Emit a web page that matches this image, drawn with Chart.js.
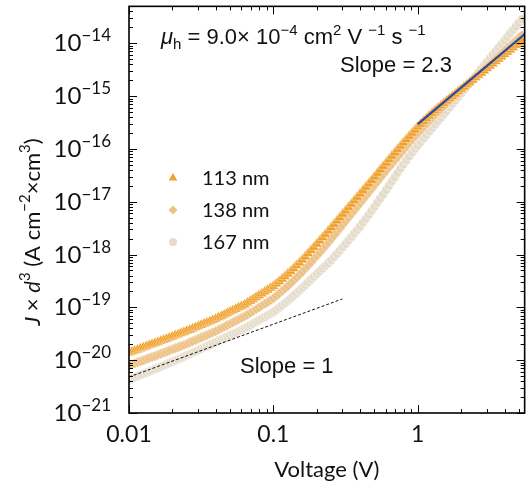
<!DOCTYPE html>
<html>
<head>
<meta charset="utf-8">
<script src="https://cdn.jsdelivr.net/npm/chart.js@4.4.1/dist/chart.umd.min.js"></script>
<style>
  body { margin: 0; background: #fff; }
  canvas { display: block; }
</style>
</head>
<body>
<canvas id="chart" width="531" height="490"></canvas>
<script>
// voltage (V), log spaced
const voltage = [
  0.01, 0.01047, 0.01096, 0.01148, 0.01202, 0.01259, 0.01318, 0.0138, 0.01445, 0.01514,
  0.01585, 0.0166, 0.01738, 0.0182, 0.01905, 0.01995, 0.02089, 0.02188, 0.02291, 0.02399,
  0.02512, 0.0263, 0.02754, 0.02884, 0.0302, 0.03162, 0.03311, 0.03467, 0.03631, 0.03802,
  0.03981, 0.04169, 0.04365, 0.04571, 0.04786, 0.05012, 0.05248, 0.05495, 0.05754, 0.06026,
  0.0631, 0.06607, 0.06918, 0.07244, 0.07586, 0.07943, 0.08318, 0.0871, 0.0912, 0.0955,
  0.1, 0.1047, 0.1096, 0.1148, 0.1202, 0.1259, 0.1318, 0.138, 0.1445, 0.1514,
  0.1585, 0.166, 0.1738, 0.182, 0.1905, 0.1995, 0.2089, 0.2188, 0.2291, 0.2399,
  0.2512, 0.263, 0.2754, 0.2884, 0.302, 0.3162, 0.3311, 0.3467, 0.3631, 0.3802,
  0.3981, 0.4169, 0.4365, 0.4571, 0.4786, 0.5012, 0.5248, 0.5495, 0.5754, 0.6026,
  0.631, 0.6607, 0.6918, 0.7244, 0.7586, 0.7943, 0.8318, 0.871, 0.912, 0.955,
  1.0, 1.047, 1.096, 1.148, 1.202, 1.259, 1.318, 1.38, 1.445, 1.514,
  1.585, 1.66, 1.738, 1.82, 1.905, 1.995, 2.089, 2.188, 2.291, 2.399,
  2.512, 2.63, 2.754, 2.884, 3.02, 3.162, 3.311, 3.467, 3.631, 3.802,
  3.981, 4.169, 4.365, 4.571, 4.786, 5.012, 5.248
];

// J x d^3 (A cm^-2 x cm^3)
const j113 = [
  1.38e-20, 1.44e-20, 1.51e-20, 1.58e-20, 1.66e-20, 1.74e-20, 1.82e-20, 1.91e-20, 2.00e-20, 2.09e-20,
  2.19e-20, 2.30e-20, 2.41e-20, 2.53e-20, 2.65e-20, 2.78e-20, 2.92e-20, 3.07e-20, 3.22e-20, 3.38e-20,
  3.55e-20, 3.74e-20, 3.94e-20, 4.16e-20, 4.39e-20, 4.63e-20, 4.88e-20, 5.14e-20, 5.42e-20, 5.72e-20,
  6.03e-20, 6.41e-20, 6.82e-20, 7.26e-20, 7.73e-20, 8.22e-20, 8.75e-20, 9.31e-20, 9.91e-20, 1.05e-19,
  1.12e-19, 1.22e-19, 1.32e-19, 1.43e-19, 1.55e-19, 1.68e-19, 1.82e-19, 1.97e-19, 2.14e-19, 2.32e-19,
  2.51e-19, 2.79e-19, 3.10e-19, 3.45e-19, 3.84e-19, 4.31e-19, 4.83e-19, 5.47e-19, 6.19e-19, 7.01e-19,
  7.94e-19, 9.13e-19, 1.05e-18, 1.20e-18, 1.38e-18, 1.59e-18, 1.83e-18, 2.11e-18, 2.43e-18, 2.81e-18,
  3.24e-18, 3.75e-18, 4.35e-18, 5.04e-18, 5.83e-18, 6.76e-18, 7.83e-18, 9.07e-18, 1.05e-17, 1.22e-17,
  1.41e-17, 1.64e-17, 1.90e-17, 2.20e-17, 2.55e-17, 2.97e-17, 3.47e-17, 4.03e-17, 4.68e-17, 5.43e-17,
  6.31e-17, 7.31e-17, 8.47e-17, 9.83e-17, 1.14e-16, 1.31e-16, 1.51e-16, 1.74e-16, 2.00e-16, 2.29e-16,
  2.63e-16, 2.96e-16, 3.34e-16, 3.77e-16, 4.25e-16, 4.76e-16, 5.32e-16, 5.92e-16, 6.58e-16, 7.31e-16,
  8.13e-16, 8.99e-16, 9.95e-16, 1.10e-15, 1.22e-15, 1.35e-15, 1.49e-15, 1.65e-15, 1.83e-15, 2.02e-15,
  2.24e-15, 2.48e-15, 2.74e-15, 3.03e-15, 3.36e-15, 3.72e-15, 4.11e-15, 4.55e-15, 5.04e-15, 5.58e-15,
  6.17e-15, 6.83e-15, 7.55e-15, 8.36e-15, 9.25e-15, 1.02e-14, 1.13e-14
];
const j138 = [
  7.94e-21, 8.32e-21, 8.71e-21, 9.12e-21, 9.55e-21, 1.00e-20, 1.05e-20, 1.10e-20, 1.15e-20, 1.20e-20,
  1.26e-20, 1.32e-20, 1.39e-20, 1.46e-20, 1.53e-20, 1.60e-20, 1.68e-20, 1.76e-20, 1.85e-20, 1.94e-20,
  2.04e-20, 2.16e-20, 2.28e-20, 2.41e-20, 2.55e-20, 2.69e-20, 2.84e-20, 3.00e-20, 3.18e-20, 3.36e-20,
  3.55e-20, 3.79e-20, 4.04e-20, 4.31e-20, 4.59e-20, 4.89e-20, 5.22e-20, 5.57e-20, 5.94e-20, 6.34e-20,
  6.76e-20, 7.31e-20, 7.91e-20, 8.55e-20, 9.25e-20, 9.99e-20, 1.08e-19, 1.17e-19, 1.26e-19, 1.37e-19,
  1.48e-19, 1.65e-19, 1.83e-19, 2.03e-19, 2.26e-19, 2.53e-19, 2.84e-19, 3.22e-19, 3.65e-19, 4.13e-19,
  4.68e-19, 5.37e-19, 6.17e-19, 7.08e-19, 8.13e-19, 9.37e-19, 1.08e-18, 1.25e-18, 1.45e-18, 1.68e-18,
  1.95e-18, 2.28e-18, 2.67e-18, 3.12e-18, 3.65e-18, 4.27e-18, 4.99e-18, 5.83e-18, 6.82e-18, 7.98e-18,
  9.33e-18, 1.09e-17, 1.28e-17, 1.50e-17, 1.75e-17, 2.05e-17, 2.39e-17, 2.80e-17, 3.27e-17, 3.82e-17,
  4.47e-17, 5.20e-17, 6.05e-17, 7.04e-17, 8.20e-17, 9.54e-17, 1.11e-16, 1.29e-16, 1.49e-16, 1.73e-16,
  2.00e-16, 2.28e-16, 2.61e-16, 2.98e-16, 3.40e-16, 3.87e-16, 4.41e-16, 4.99e-16, 5.65e-16, 6.40e-16,
  7.24e-16, 8.16e-16, 9.20e-16, 1.04e-15, 1.17e-15, 1.32e-15, 1.48e-15, 1.65e-15, 1.85e-15, 2.07e-15,
  2.32e-15, 2.59e-15, 2.90e-15, 3.25e-15, 3.64e-15, 4.07e-15, 4.56e-15, 5.10e-15, 5.71e-15, 6.39e-15,
  7.16e-15, 8.01e-15, 8.97e-15, 1.00e-14, 1.12e-14, 1.26e-14, 1.41e-14
];
const j167 = [
  4.27e-21, 4.49e-21, 4.72e-21, 4.96e-21, 5.22e-21, 5.49e-21, 5.78e-21, 6.08e-21, 6.40e-21, 6.73e-21,
  7.08e-21, 7.48e-21, 7.91e-21, 8.36e-21, 8.83e-21, 9.33e-21, 9.86e-21, 1.04e-20, 1.10e-20, 1.16e-20,
  1.23e-20, 1.30e-20, 1.38e-20, 1.46e-20, 1.55e-20, 1.64e-20, 1.74e-20, 1.84e-20, 1.95e-20, 2.07e-20,
  2.19e-20, 2.33e-20, 2.47e-20, 2.62e-20, 2.78e-20, 2.95e-20, 3.13e-20, 3.32e-20, 3.53e-20, 3.75e-20,
  3.98e-20, 4.27e-20, 4.59e-20, 4.93e-20, 5.30e-20, 5.69e-20, 6.11e-20, 6.56e-20, 7.05e-20, 7.57e-20,
  8.13e-20, 8.95e-20, 9.86e-20, 1.09e-19, 1.20e-19, 1.33e-19, 1.48e-19, 1.66e-19, 1.86e-19, 2.09e-19,
  2.34e-19, 2.64e-19, 2.98e-19, 3.36e-19, 3.78e-19, 4.26e-19, 4.81e-19, 5.42e-19, 6.11e-19, 6.89e-19,
  7.76e-19, 8.94e-19, 1.03e-18, 1.19e-18, 1.37e-18, 1.59e-18, 1.85e-18, 2.15e-18, 2.50e-18, 2.91e-18,
  3.39e-18, 4.02e-18, 4.76e-18, 5.65e-18, 6.70e-18, 8.00e-18, 9.55e-18, 1.15e-17, 1.38e-17, 1.66e-17,
  2.00e-17, 2.41e-17, 2.91e-17, 3.52e-17, 4.25e-17, 5.08e-17, 6.08e-17, 7.21e-17, 8.55e-17, 1.00e-16,
  1.17e-16, 1.36e-16, 1.58e-16, 1.84e-16, 2.14e-16, 2.48e-16, 2.88e-16, 3.35e-16, 3.89e-16, 4.52e-16,
  5.25e-16, 6.11e-16, 7.11e-16, 8.28e-16, 9.64e-16, 1.12e-15, 1.31e-15, 1.52e-15, 1.77e-15, 2.06e-15,
  2.40e-15, 2.80e-15, 3.27e-15, 3.81e-15, 4.45e-15, 5.19e-15, 6.05e-15, 7.06e-15, 8.24e-15, 9.61e-15,
  1.12e-14, 1.31e-14, 1.53e-14, 1.78e-14, 2.08e-14, 2.43e-14, 2.83e-14
];

// fit lines
const slope1X = [0.01, 0.3];
const slope1Y = [4.8e-21, 1.44e-19];
const slope23X = [1, 5.5];
const slope23Y = [2.95e-16, 1.49e-14];

const seriesLabels = ['113 nm', '138 nm', '167 nm'];
const xTickValues = [0.01, 0.1, 1];
const xTickLabels = ['0.01', '0.1', '1'];
const yTickExponents = [-21, -20, -19, -18, -17, -16, -15, -14];

const colors = ['#f0a02c', '#ecc286', '#e6dccb'];

const pts = (xs, ys) => xs.map((x, i) => ({ x: x, y: ys[i] }));

function richText(ctx, parts, x, y, align) {
  let w = 0;
  parts.forEach(p => { ctx.font = p[1]; w += ctx.measureText(p[0]).width; });
  let cx = align === 'right' ? x - w : align === 'center' ? x - w / 2 : x;
  ctx.textAlign = 'left';
  ctx.textBaseline = 'alphabetic';
  parts.forEach(p => {
    ctx.font = p[1];
    ctx.fillText(p[0], cx, y + (p[2] || 0));
    cx += ctx.measureText(p[0]).width;
  });
}

const decor = {
  id: 'decor',
  afterDatasetsDraw(chart) {
    const { ctx, chartArea: a, scales: { x, y } } = chart;
    ctx.save();
    ctx.strokeStyle = '#000';
    ctx.lineWidth = 1;
    ctx.beginPath();
    for (let e = -2; e <= 0; e++) {
      for (let m = 1; m <= 9; m++) {
        const v = m * Math.pow(10, e);
        if (v > x.max) continue;
        const px = Math.round(x.getPixelForValue(v)) + 0.5;
        const len = m === 1 ? 8 : 4;
        ctx.moveTo(px, a.bottom); ctx.lineTo(px, a.bottom - len);
        ctx.moveTo(px, a.top); ctx.lineTo(px, a.top + len);
      }
    }
    for (let e = -21; e <= -14; e++) {
      for (let m = 1; m <= 9; m++) {
        const v = m * Math.pow(10, e);
        if (v > y.max) continue;
        const py = Math.round(y.getPixelForValue(v)) + 0.5;
        const len = m === 1 ? 8 : 4;
        ctx.moveTo(a.left, py); ctx.lineTo(a.left + len, py);
        ctx.moveTo(a.right, py); ctx.lineTo(a.right - len, py);
      }
    }
    ctx.stroke();
    ctx.lineWidth = 1.6;
    ctx.strokeRect(a.left, a.top, a.right - a.left, a.bottom - a.top);

    ctx.fillStyle = '#111';
    // x tick labels
    ctx.font = '23px Lato';
    ctx.textAlign = 'center';
    xTickValues.forEach((v, i) => {
      ctx.fillText(xTickLabels[i], x.getPixelForValue(v), a.bottom + 29);
    });
    // y tick labels
    yTickExponents.forEach(e => {
      const py = y.getPixelForValue(Math.pow(10, e));
      richText(ctx, [['10', '24px Lato'], ['\u2212' + Math.abs(e), '17px Lato', -10]], a.left - 18, py + 8, 'right');
    });
    // axis titles
    ctx.font = '22px Lato';
    ctx.textAlign = 'center';
    ctx.fillText('Voltage (V)', (a.left + a.right) / 2, 477);
    ctx.save();
    ctx.translate(40, 232);
    ctx.rotate(-Math.PI / 2);
    richText(ctx, [
      ['J', 'italic 22px Lato'], [' \u00d7 ', '22px Lato'], ['d', 'italic 22px Lato'],
      ['3', '15px Lato', -10], [' (A cm', '22px Lato'], ['\u22122', '15px Lato', -10],
      ['\u00d7cm', '22px Lato'], ['3', '15px Lato', -10], [')', '22px Lato']
    ], 0, 0, 'center');
    ctx.restore();

    // annotations
    const f = '22px "Liberation Sans"', s = '15px "Liberation Sans"';
    richText(ctx, [
      ['\u03bc', 'italic ' + f], ['h', s, 5], [' = 9.0\u00d7 10', f], ['\u22124', s, -9],
      [' cm', f], ['2', s, -9], [' V ', f], ['\u22121', s, -9], [' s ', f], ['\u22121', s, -9]
    ], 161, 44, 'left');
    ctx.font = f;
    ctx.textAlign = 'left';
    ctx.fillText('Slope = 2.3', 340, 72);
    ctx.fillText('Slope = 1', 240, 373);

    // legend
    const ly = [178, 210, 242];
    ly.forEach((yy, i) => {
      ctx.fillStyle = colors[i];
      ctx.beginPath();
      if (i === 0) {
        ctx.moveTo(173, yy - 5); ctx.lineTo(177.3, yy + 2.5); ctx.lineTo(168.7, yy + 2.5);
      } else if (i === 1) {
        ctx.moveTo(173, yy - 4.5); ctx.lineTo(177.5, yy); ctx.lineTo(173, yy + 4.5); ctx.lineTo(168.5, yy);
      } else {
        ctx.arc(173, yy, 4, 0, Math.PI * 2);
      }
      ctx.fill();
      ctx.fillStyle = '#111';
      ctx.font = '20px Lato';
      ctx.fillText(seriesLabels[i], 202, yy + 7);
    });
    ctx.restore();
  }
};

new Chart(document.getElementById('chart'), {
  type: 'scatter',
  data: {
    datasets: [
      { label: 'Slope = 2.3', data: pts(slope23X, slope23Y), showLine: true, borderColor: '#2b4c9e',
        borderWidth: 2.2, pointRadius: 0, order: 0 },
      { label: 'Slope = 1', data: pts(slope1X, slope1Y), showLine: true, borderColor: '#111',
        borderWidth: 1, borderDash: [3, 2], pointRadius: 0, order: 0 },
      { label: seriesLabels[0], data: pts(voltage, j113), pointStyle: 'triangle', pointRadius: 6,
        backgroundColor: colors[0], borderColor: '#fff', borderWidth: 0.35, order: 1 },
      { label: seriesLabels[1], data: pts(voltage, j138), pointStyle: 'rectRot', pointRadius: 5.2,
        backgroundColor: colors[1], borderColor: '#fff', borderWidth: 0.35, order: 2 },
      { label: seriesLabels[2], data: pts(voltage, j167), pointStyle: 'circle', pointRadius: 4.5,
        backgroundColor: colors[2], borderColor: '#fff', borderWidth: 0.5, order: 3 }
    ]
  },
  options: {
    responsive: false,
    animation: false,
    devicePixelRatio: 1,
    layout: { padding: { left: 129, right: 2, top: 6, bottom: 77 } },
    plugins: { legend: { display: false }, tooltip: { enabled: false } },
    scales: {
      x: { type: 'logarithmic', min: 0.01, max: 5.5, display: false },
      y: { type: 'logarithmic', min: 1e-21, max: 5e-14, display: false }
    }
  },
  plugins: [decor]
});
</script>
</body>
</html>
